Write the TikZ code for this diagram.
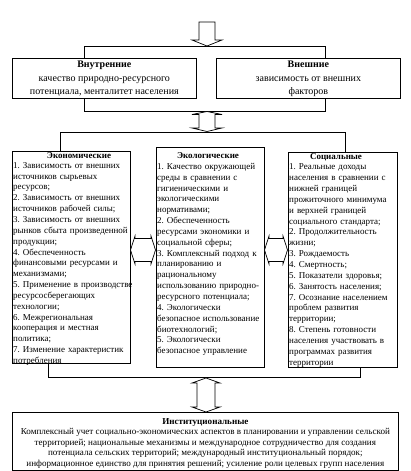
\documentclass[tikz,border=0pt]{standalone}
\usepackage{fontspec}
\setmainfont{Liberation Serif}
\frenchspacing
\begin{document}
\begin{tikzpicture}[x=1pt,y=-1pt,
  box/.style={draw, line width=0.7pt, inner sep=0pt, anchor=north west},
  blk/.style={draw, fill=white, line width=0.7pt, line join=miter},
  ln/.style={line width=0.7pt},
  coltitle/.style={inner sep=0pt, anchor=base, font=\fontsize{9}{10.85}\selectfont\bfseries},
  colbody/.style={inner sep=0pt, anchor=base west, align=left, text width=125pt, font=\fontsize{9}{10.85}\selectfont\frenchspacing},
  toptext/.style={inner sep=0pt, align=center, font=\fontsize{10}{13.5}\selectfont},
]
\useasboundingbox (0,0) rectangle (411,471);

% boxes
\node[box, minimum width=184pt, minimum height=40pt] (inner) at (12,58) {};
\node[box, minimum width=184pt, minimum height=40pt] (outer) at (216,58) {};
\node[box, minimum width=118pt, minimum height=212pt] (econ) at (12,151) {};
\node[box, minimum width=108pt, minimum height=220pt] (eco) at (156,147) {};
\node[box, minimum width=109pt, minimum height=215pt] (soc) at (288,152) {};
\node[box, minimum width=386pt, minimum height=58pt] (inst) at (12,412) {};

% top texts
\node[toptext] (innert) at ([yshift=-0.5pt]inner.center) {\textbf{Внутренние}\\ качество природно-ресурсного\\ потенциала, менталитет населения};
\node[toptext] (outert) at ([yshift=-0.5pt]outer.center) {\textbf{Внешние}\\ зависимость от внешних\\ факторов};

% column titles
\node[coltitle] (econtt) at (79,158) {Экономические};
\node[coltitle] (ecott) at (208,158.5) {Экологические};
\node[coltitle] (soctt) at (336,159) {Социальные};

% column bodies
\node[colbody] (econb) at (13,168.2) {1. Зависимость от внешних\\
источников сырьевых\\
ресурсов;\\
2. Зависимость от внешних\\
источников рабочей силы;\\
3. Зависимость от внешних\\
рынков сбыта произведенной\\
продукции;\\
4. Обеспеченность\\
финансовыми ресурсами и\\
механизмами;\\
5. Применение в производстве\\
ресурсосберегающих\\
технологии;\\
6. Межрегиональная\\
кооперация и местная\\
политика;\\
7. Изменение характеристик\\
потребления};

\node[colbody] (ecob) at (157,169.3) {1. Качество окружающей\\
среды в сравнении с\\
гигиеническими и\\
экологическими\\
нормативами;\\
2. Обеспеченность\\
ресурсами экономики и\\
социальной сферы;\\
3. Комплексный подход к\\
планированию и\\
рациональному\\
использованию природно-\\
ресурсного потенциала;\\
4. Экологически\\
безопасное использование\\
биотехнологий;\\
5. Экологически\\
безопасное управление};

\node[colbody] (socb) at (289,169.8) {1. Реальные доходы\\
населения в сравнении с\\
нижней границей\\
прожиточного минимума\\
и верхней границей\\
социального стандарта;\\
2. Продолжительность\\
жизни;\\
3. Рождаемость\\
4. Смертность;\\
5. Показатели здоровья;\\
6. Занятость населения;\\
7. Осознание населением\\
проблем развития\\
территории;\\
8. Степень готовности\\
населения участвовать в\\
программах развития\\
территории};

% bottom text
\node[inner sep=0pt, align=center, font=\fontsize{9.1}{10.5}\selectfont] (instt) at ([yshift=-2pt]inst.center) {\textbf{Институциональные}\\
Комплексный учет социально-экономических аспектов в планировании и управлении сельской\\
территорией; национальные механизмы и международное сотрудничество для создания\\
потенциала сельских территорий; международный институциональный порядок;\\
информационное единство для принятия решений; усиление роли целевых групп населения};

% connector coordinates
\coordinate (a1) at (84,46);
\coordinate (a2) at (325,46);
\coordinate (b1) at (84,111);
\coordinate (b2) at (325,111);
\coordinate (c1) at (60,132);
\coordinate (c2) at (345,132);
\coordinate (d1) at (48,377);
\coordinate (d2) at (360,377);

\draw[ln] (a1 |- inner.north) -- (a1) -- (a2) -- (a2 |- outer.north);
\draw[ln] (b1 |- inner.south) -- (b1) -- (b2) -- (b2 |- outer.south);
\draw[ln] (c1 |- econ.north) -- (c1) -- (c2) -- (c2 |- soc.north);
\draw[ln] (d1 |- econ.south) -- (d1) -- (d2) -- (d2 |- soc.south);

% block arrows
\draw[blk] (199,22) -- (215,22) -- (215,40) -- (222,40) -- (207,46) -- (192,40) -- (199,40) -- cycle;
\draw[blk] (207,111.5) -- (222,114.5) -- (215,114.5) -- (215,128) -- (222,128) -- (207,131.5) -- (192,128) -- (199,128) -- (199,114.5) -- (192,114.5) -- cycle;
\draw[blk] (206,378) -- (220,383) -- (215,383) -- (215,407) -- (220,407) -- (206,412) -- (192,407) -- (197,407) -- (197,383) -- (192,383) -- cycle;
\draw[blk] (130.5,250) -- (135,236) -- (135,238.5) -- (151,238.5) -- (151,236) -- (155.5,250) -- (151,264) -- (151,261.5) -- (135,261.5) -- (135,264) -- cycle;
\draw[blk] (264.5,250) -- (269,236) -- (269,238.5) -- (283,238.5) -- (283,236) -- (287.5,250) -- (283,264) -- (283,261.5) -- (269,261.5) -- (269,264) -- cycle;
\end{tikzpicture}
\end{document}
